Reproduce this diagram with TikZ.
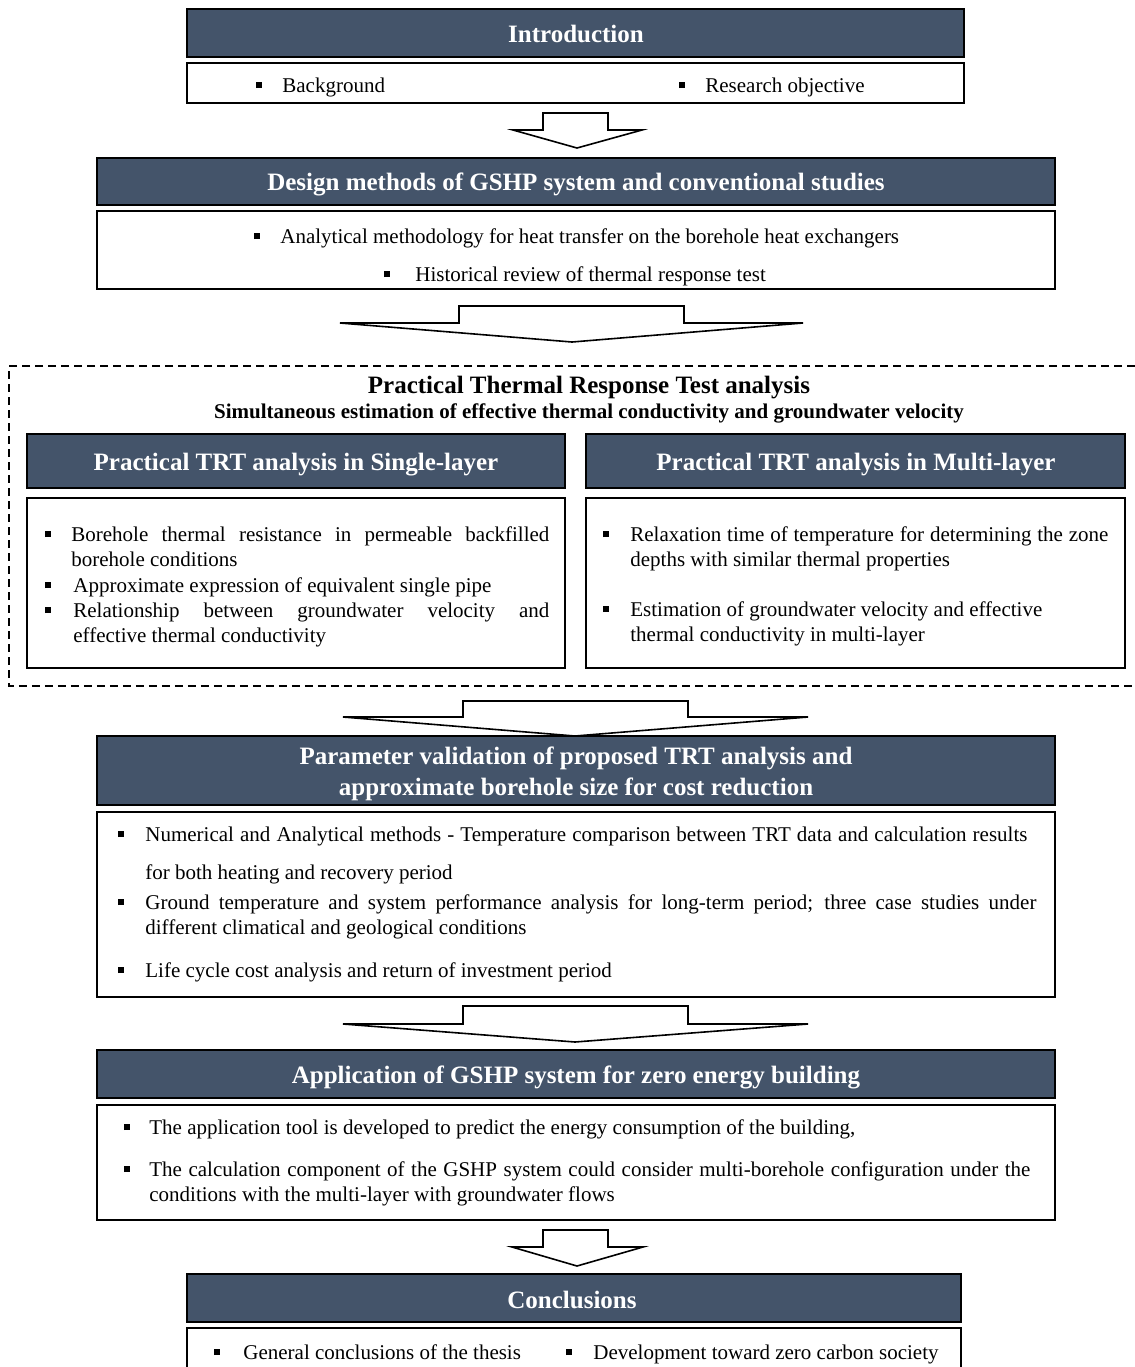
\documentclass[tikz,border=0pt]{standalone}
\usepackage{fontspec}
\setmainfont{Liberation Serif}
\definecolor{hdrblue}{RGB}{68,84,106}
\newcommand\bul[1]{\makebox[#1][l]{\rule[2pt]{3pt}{3pt}}}
\newcommand\boxat[6]{%
  \node[#1, minimum width={(#5-#3)*0.5pt}, minimum height={(#6-#4)*0.5pt}] (#2) at ({(#3+#5)/2},{(#4+#6)/2}) {};}
\newcommand\barrow[8]{% shaft left, shaft right, top, shoulder, wing left, wing right, tip x, tip y
  \draw[blockarrow] (#1,#3) -- (#2,#3) -- (#2,#4) -- (#6,#4) -- (#7,#8) -- (#5,#4) -- (#1,#4) -- cycle;}
\tikzset{
  hdr/.style={draw=black, line width=0.8pt, fill=hdrblue, inner sep=0pt},
  bodybox/.style={draw=black, line width=0.8pt, fill=white, inner sep=0pt},
  htext/.style={font=\fontsize{12.5}{15.5}\selectfont\bfseries, text=white, inner sep=0pt, anchor=base},
  ttext/.style={font=\fontsize{12.5}{15.5}\selectfont\bfseries, text=black, inner sep=0pt, anchor=base},
  stext/.style={font=\fontsize{10.5}{12.5}\selectfont\bfseries, text=black, inner sep=0pt, anchor=base},
  btext/.style={font=\fontsize{10.5}{12.5}\selectfont, text=black, inner sep=0pt, anchor=base west},
  blockarrow/.style={draw=black, line width=0.8pt, fill=white, line join=miter},
  dashedframe/.style={draw=black, line width=0.7pt, dash pattern=on 4pt off 2.5pt}
}
\begin{document}
\begin{tikzpicture}[x=0.5pt,y=-0.5pt]
\useasboundingbox[fill=white] (0,0) rectangle (1135,1367);

% ---------- Introduction ----------
\boxat{hdr}{introH}{187}{9}{964}{57}
\node[htext] (introT) at (576,42) {Introduction};
\boxat{bodybox}{introB}{187}{63}{964}{103}
\node[btext] (introL1) at (256,92) {\bul{13pt}Background};
\node[btext] (introL2) at (679,92) {\bul{13pt}Research objective};

\barrow{543}{608}{113}{130}{513}{642}{577}{148}

% ---------- Design methods ----------
\boxat{hdr}{desH}{97}{158}{1055}{205}
\node[htext] (desT) at (576,190) {Design methods of GSHP system and conventional studies};
\boxat{bodybox}{desB}{97}{211}{1055}{289}
\node[btext] (desL1) at (254,243) {\bul{13pt}Analytical methodology for heat transfer on the borehole heat exchangers};
\node[btext] (desL2) at (384,281) {\bul{15.5pt}Historical review of thermal response test};

\barrow{459}{684}{306}{323}{340}{803}{572}{342}

% ---------- Practical TRT group ----------
\draw[dashedframe] (1135,366) -- (9,366) -- (9,686) -- (1135,686);
\node[ttext] (grpT) at (589,393) {Practical Thermal Response Test analysis};
\node[stext] (grpS) at (589,418) {Simultaneous estimation of effective thermal conductivity and groundwater velocity};

\boxat{hdr}{sglH}{27}{434}{565}{488}
\node[htext] (sglT) at (296,470) {Practical TRT analysis in Single-layer};
\boxat{bodybox}{sglB}{27}{498}{565}{668}
\node[btext] (sglL1) at (45,541) {\bul{13pt}\makebox[239pt][s]{Borehole thermal resistance in permeable backfilled}};
\node[btext] (sglL2) at (71,566) {borehole conditions};
\node[btext] (sglL3) at (45,592) {\bul{14pt}Approximate expression of equivalent single pipe};
\node[btext] (sglL4) at (45,617) {\bul{14pt}\makebox[238pt][s]{Relationship between groundwater velocity and}};
\node[btext] (sglL5) at (73,642) {effective thermal conductivity};

\boxat{hdr}{mulH}{586}{434}{1125}{488}
\node[htext] (mulT) at (856,470) {Practical TRT analysis in Multi-layer};
\boxat{bodybox}{mulB}{586}{498}{1125}{668}
\node[btext] (mulL1) at (603,541) {\bul{13.5pt}\makebox[239pt][s]{Relaxation time of temperature for determining the zone}};
\node[btext] (mulL2) at (630,566) {depths with similar thermal properties};
\node[btext] (mulL3) at (603,616) {\bul{13.5pt}Estimation of groundwater velocity and effective};
\node[btext] (mulL4) at (630,641) {thermal conductivity in multi-layer};

\barrow{463}{688}{701}{717}{343}{808}{575}{736}

% ---------- Parameter validation ----------
\boxat{hdr}{parH}{97}{736}{1055}{805}
\node[htext] (parT1) at (576,764) {Parameter validation of proposed TRT analysis and};
\node[htext] (parT2) at (576,795) {approximate borehole size for cost reduction};
\boxat{bodybox}{parB}{97}{812}{1055}{997}
\node[btext] (parL1) at (118,841) {\bul{13.5pt}\makebox[441pt][s]{Numerical and Analytical methods - Temperature comparison between TRT data and calculation results}};
\node[btext] (parL2) at (145,879) {for both heating and recovery period};
\node[btext] (parL3) at (118,909) {\bul{13.5pt}\makebox[445.5pt][s]{Ground temperature and system performance analysis for long-term period; three case studies under}};
\node[btext] (parL4) at (145,934) {different climatical and geological conditions};
\node[btext] (parL5) at (118,977) {\bul{13.5pt}Life cycle cost analysis and return of investment period};

\barrow{463}{688}{1006}{1024}{343}{808}{575}{1042}

% ---------- Application ----------
\boxat{hdr}{appH}{97}{1050}{1055}{1098}
\node[htext] (appT) at (576,1083) {Application of GSHP system for zero energy building};
\boxat{bodybox}{appB}{97}{1105}{1055}{1220}
\node[btext] (appL1) at (124,1134) {\bul{12.5pt}The application tool is developed to predict the energy consumption of the building,};
\node[btext] (appL2) at (124,1176) {\bul{12.5pt}\makebox[440.5pt][s]{The calculation component of the GSHP system could consider multi-borehole configuration under the}};
\node[btext] (appL3) at (149,1201) {conditions with the multi-layer with groundwater flows};

\barrow{543}{608}{1230}{1247}{512}{643}{577}{1266}

% ---------- Conclusions ----------
\boxat{hdr}{conH}{187}{1274}{961}{1322}
\node[htext] (conT) at (572,1308) {Conclusions};
\boxat{bodybox}{conB}{187}{1328}{961}{1400}
\node[btext] (conL1) at (214,1359) {\bul{14.5pt}General conclusions of the thesis};
\node[btext] (conL2) at (566,1359) {\bul{13.5pt}Development toward zero carbon society};
\end{tikzpicture}
\end{document}
